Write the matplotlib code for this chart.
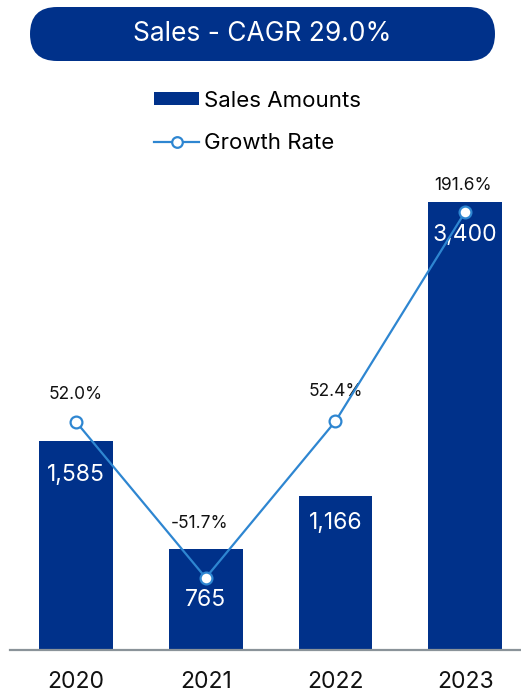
import matplotlib.pyplot as plt
from matplotlib.patches import FancyBboxPatch

# dados
anos = ["2020", "2021", "2022", "2023"]
vendas = [1585, 765, 1166, 3400]
crescimento = [52.0, -51.7, 52.4, 191.6]
titulo = "Sales - CAGR 29.0%"

AZUL_ESCURO = "#00318A"
AZUL_LINHA = "#2E86D1"
plt.rcParams["font.family"] = ["Inter", "DejaVu Sans"]

fig = plt.figure(figsize=(5.21, 6.93), dpi=100)
W, H = 521, 693

# eixo principal (barras)
ax = fig.add_axes([10 / W, 1 - 650 / H, 511 / W, 480 / H])
x = list(range(len(anos)))
barras = ax.bar(x, vendas, width=0.57, color=AZUL_ESCURO, label="Sales Amounts", zorder=2)
ax.set_xlim(-0.509, 3.43)
ax.set_ylim(0, 3642)
ax.set_yticks([])
for s in ["top", "right", "left"]:
    ax.spines[s].set_visible(False)
ax.spines["bottom"].set_color("#8A9399")
ax.spines["bottom"].set_linewidth(1.6)
ax.set_xticks(x)
ax.set_xticklabels(anos, fontsize=16.5, color="#111111")
ax.tick_params(axis="x", length=0, pad=15)

# rótulos das barras (deslocamentos para evitar o marcador)
desloc = [-34, -51, -27, -33]
for xi, v, d in zip(x, vendas, desloc):
    ax.annotate(f"{v:,}", (xi, v), xytext=(0, d), textcoords="offset pixels",
                ha="center", va="center", color="white", fontsize=16.5, zorder=5)

# eixo secundário (taxa de crescimento)
ax2 = ax.twinx()
ax2.set_ylim(-99.7, 219.4)
ax2.set_yticks([])
for s in ax2.spines.values():
    s.set_visible(False)
linha, = ax2.plot(x, crescimento, color=AZUL_LINHA, lw=1.6, marker="o", markersize=8.5,
                  markerfacecolor="white", markeredgecolor=AZUL_LINHA, markeredgewidth=1.6,
                  label="Growth Rate", zorder=4)
desloc_pct = [(0, 27), (-6, 54), (0, 30), (-2, 26)]
for xi, v, (dx, dy) in zip(x, crescimento, desloc_pct):
    ax2.annotate(f"{v:.1f}%", (xi, v), xytext=(dx, dy), textcoords="offset pixels",
                 ha="center", va="center", color="#111111", fontsize=12.5)

# título em pílula
pilula = FancyBboxPatch((30 / W, 1 - 61 / H), 465 / W, 54 / H,
                        boxstyle="round,pad=0,rounding_size=0.052",
                        transform=fig.transFigure, facecolor=AZUL_ESCURO, edgecolor="none",
                        mutation_aspect=W / H)
fig.patches.append(pilula)
fig.text(262 / W, 1 - 34 / H, titulo, ha="center", va="center", color="white", fontsize=19)

# legenda
fig.legend(handles=[barras, linha], loc="center", bbox_to_anchor=(258 / W, 1 - 122 / H),
           frameon=False, fontsize=16, handlelength=2.0, handleheight=0.5,
           handletextpad=0.25, labelspacing=1.02, markerscale=0.9)

fig.savefig("out.png", dpi=100)
